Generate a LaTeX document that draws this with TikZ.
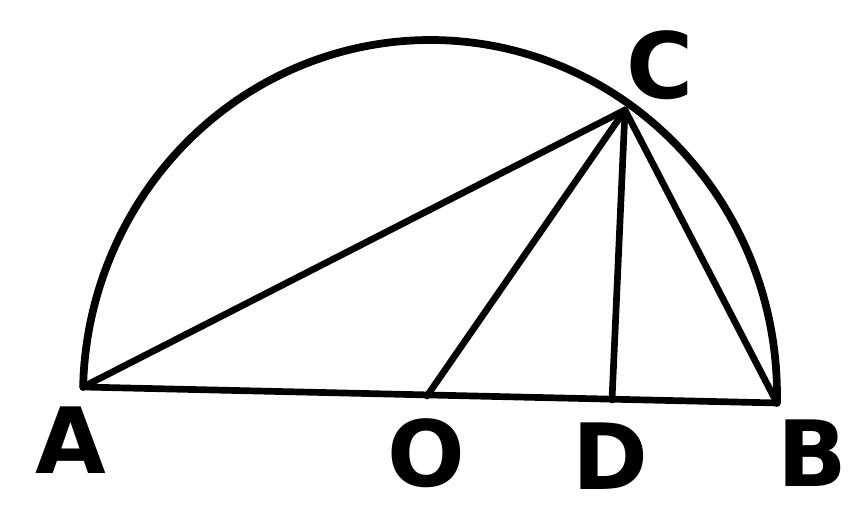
\documentclass[tikz,border=0pt]{standalone}
\usepackage{fontspec}
\setmainfont{DejaVu Sans}
\begin{document}
\begin{tikzpicture}[x=0.01cm, y=-0.01cm, line cap=round, line join=round,
    edge/.style={line width=1.9pt},
    lbl/.style={font=\bfseries\fontsize{26}{26}\selectfont, inner sep=0pt}]
\useasboundingbox (0,0) rectangle (853,510);
\coordinate (A) at (83,387);
\coordinate (O) at (427,396);
\coordinate (D) at (612,400);
\coordinate (B) at (777,403);
\coordinate (C) at (625,110);
% the arc over AB
\draw[line width=2.2pt, domain=0:180, samples=90, smooth]
    plot ({430+347*cos(\x)*0.99973+355*sin(\x)*0.02305}, {395+347*cos(\x)*0.02305-355*sin(\x)*0.99973});
\draw[edge](A)--(B);
\foreach \p in {A,O,D,B}
{
    \draw[edge](C)--(\p);
}
\node[lbl] (lA) at (71,440) {A};
\node[lbl] (lO) at (426,453) {O};
\node[lbl] (lD) at (610,456) {D};
\node[lbl] (lB) at (812,453) {B};
\node[lbl] (lC) at (660,65) {C};
\end{tikzpicture}
\end{document}
